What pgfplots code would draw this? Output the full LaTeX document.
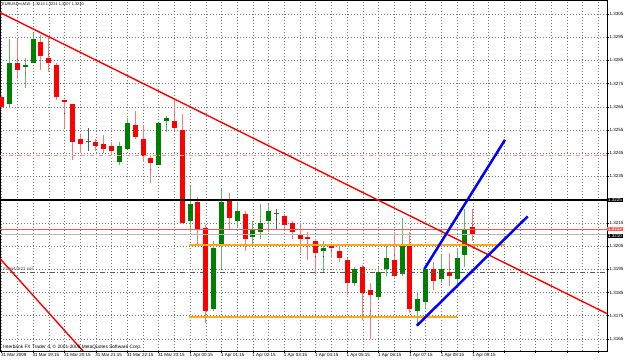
\documentclass[border=0pt]{standalone}
\usepackage{fontspec}
\setmainfont{Liberation Sans}
\usepackage{pgfplots}
\usepackage{pgfplotstable}
\pgfplotsset{compat=1.18}

\definecolor{mtred}{RGB}{255,0,0}
\definecolor{mtgreen}{RGB}{0,128,0}
\definecolor{wickred}{RGB}{255,120,120}
\definecolor{wickgreen}{RGB}{100,185,100}
\definecolor{gridc}{RGB}{120,120,120}
\definecolor{mtorange}{RGB}{255,170,30}
\definecolor{mtblue}{RGB}{0,0,255}
\definecolor{askc}{RGB}{255,90,90}
\definecolor{bidc}{RGB}{185,185,185}
\definecolor{slc}{RGB}{255,150,150}
\definecolor{ordc}{RGB}{90,90,90}

\newcommand\fa{\fontsize{4.5bp}{5bp}\selectfont}

\pgfplotstableread{
x o h l c
0 1.3269 1.3270 1.3264 1.3265
2 1.3284 1.3294 1.3277 1.3281
5 1.3293 1.3296 1.3281 1.3287
6 1.3286 1.3295 1.3280 1.3284
7 1.3283 1.3284 1.3268 1.3269
8 1.3268 1.3268 1.3256 1.3267
9 1.3266 1.3266 1.3242 1.3250
10 1.3251 1.3253 1.3245 1.3249
12 1.3250 1.3251 1.3246 1.3248
13 1.3249 1.3253 1.3245 1.3247
14 1.3248 1.3250 1.3244 1.3246
17 1.3257 1.3263 1.3251 1.3252
18 1.3251 1.3257 1.3241 1.3244
19 1.3243 1.3244 1.3232 1.3241
22 1.3259 1.3268 1.3255 1.3256
23 1.3255 1.3262 1.3215 1.3215
25 1.3224 1.3226 1.3206 1.3212
26 1.3213 1.3214 1.3172 1.3177
29 1.3225 1.3228 1.3212 1.3217
31 1.3219 1.3220 1.3203 1.3208
36 1.3218 1.3219 1.3212 1.3214
37 1.3215 1.3216 1.3208 1.3211
38 1.3210 1.3215 1.3202 1.3208
39 1.3209 1.3211 1.3199 1.3208
40 1.3207 1.3208 1.3193 1.3202
42 1.3205 1.3206 1.3200 1.3204
43 1.3203 1.3206 1.3198 1.3200
44 1.3199 1.3200 1.3184 1.3189
46 1.3196 1.3197 1.3173 1.3185
47 1.3186 1.3189 1.3165 1.3184
50 1.3199 1.3211 1.3191 1.3192
52 1.3205 1.3211 1.3176 1.3178
55 1.3195 1.3198 1.3186 1.3190
57 1.3194 1.3202 1.3188 1.3192
60 1.3213 1.3221 1.3207 1.3210
}\down

\pgfplotstableread{
x o h l c
1 1.3266 1.3294 1.3265 1.3284
3 1.3282 1.3286 1.3273 1.3283
4 1.3284 1.3297 1.3284 1.3294
15 1.3241 1.3250 1.3240 1.3248
16 1.3247 1.3260 1.3247 1.3258
20 1.3240 1.3258 1.3240 1.3258
21 1.3259 1.3261 1.3254 1.3260
24 1.3216 1.3231 1.3211 1.3223
27 1.3178 1.3207 1.3177 1.3204
28 1.3206 1.3230 1.3195 1.3224
30 1.3216 1.3224 1.3213 1.3220
32 1.3209 1.3216 1.3206 1.3212
33 1.3211 1.3223 1.3208 1.3215
34 1.3216 1.3223 1.3211 1.3220
41 1.3203 1.3207 1.3194 1.3204
45 1.3189 1.3196 1.3188 1.3195
48 1.3183 1.3196 1.3182 1.3194
49 1.3195 1.3205 1.3192 1.3200
51 1.3193 1.3217 1.3192 1.3206
53 1.3177 1.3185 1.3171 1.3182
54 1.3181 1.3196 1.3178 1.3195
56 1.3191 1.3201 1.3189 1.3195
58 1.3191 1.3204 1.3188 1.3200
59 1.3201 1.3221 1.3196 1.3212
}\up

\pgfplotstableread{
x o h l c
11 1.3250 1.3256 1.3246 1.3250
35 1.3219 1.3221 1.3212 1.3219
}\doji

\pgfplotsset{
  candle/.style n args={2}{only marks, mark=*, mark size=0.1bp, mark options={draw=none, fill=none},
    error bars/.cd, y dir=both, y explicit, error mark=none,
    error bar style={line width=#1, #2}},
}

\begin{document}
\begin{tikzpicture}
\begin{axis}[
  at={(0,0)}, anchor=south west,
  scale only axis, width=607bp, height=351bp,
  xmin=-0.217, xmax=77.1, ymin=1.31598, ymax=1.33110,
  clip mode=individual,
  axis line style={black, line width=0.8bp},
  xtick={0,4,...,76},
  xticklabels={31 Mar 2009,31 Mar 19:15,31 Mar 20:15,31 Mar 21:15,31 Mar 22:15,31 Mar 23:15,1 Apr 00:15,1 Apr 01:15,1 Apr 02:15,1 Apr 03:15,1 Apr 04:15,1 Apr 05:15,1 Apr 06:15,1 Apr 07:15,1 Apr 08:15,1 Apr 09:15,{},{},{},{}},
  minor xtick={2,6,...,74},
  ytick={1.3165,1.3175,1.3185,1.3195,1.3205,1.3215,1.3225,1.3235,1.3245,1.3255,1.3265,1.3275,1.3285,1.3295,1.3305},
  yticklabels={1.3165,1.3175,1.3185,1.3195,1.3205,1.3215,{},1.3235,1.3245,1.3255,1.3265,1.3275,1.3285,1.3295,1.3305},
  yticklabel pos=right, ytick pos=right, xtick pos=bottom,
  tick align=outside, major tick length=2bp, minor tick length=0pt,
  tick style={black, line width=0.5bp},
  scaled y ticks=false,
  yticklabel style={font=\fa, anchor=west, inner sep=0pt, xshift=0.5bp},
  xticklabel style={font=\fa, anchor=north west, inner sep=0pt, xshift=-0.7bp, yshift=-0.5bp},
  grid=both,
  major grid style={gridc, line width=0.5bp, dash pattern=on 1bp off 2bp},
  minor grid style={gridc, line width=0.5bp, dash pattern=on 1bp off 2bp},
]
% wicks
\addplot[candle={1bp}{wickred}]
  table[x=x, y expr={0.5*(\thisrow{h}+\thisrow{l})}, y error expr={0.5*(\thisrow{h}-\thisrow{l})}] {\down};
\addplot[candle={1bp}{wickgreen}]
  table[x=x, y expr={0.5*(\thisrow{h}+\thisrow{l})}, y error expr={0.5*(\thisrow{h}-\thisrow{l})}] {\up};
\addplot[candle={1bp}{ordc}]
  table[x=x, y expr={0.5*(\thisrow{h}+\thisrow{l})}, y error expr={0.5*(\thisrow{h}-\thisrow{l})}] {\doji};
% bodies
\addplot[candle={5bp}{mtred}]
  table[x=x, y expr={0.5*(\thisrow{o}+\thisrow{c})}, y error expr={max(0.5*abs(\thisrow{o}-\thisrow{c}),0.00003)}] {\down};
\addplot[candle={5bp}{mtgreen}]
  table[x=x, y expr={0.5*(\thisrow{o}+\thisrow{c})}, y error expr={max(0.5*abs(\thisrow{o}-\thisrow{c}),0.00003)}] {\up};
\addplot[only marks, mark=-, mark size=2.5bp, ordc, mark options={line width=0.8bp}]
  table[x=x, y=o] {\doji};
% horizontal lines
\addplot[slc, line width=0.8bp, dash pattern=on 4bp off 2bp on 1bp off 2bp] coordinates {(-0.217,1.32441) (77.1,1.32441)};
\addplot[ordc, line width=0.6bp, dash pattern=on 5bp off 2bp on 1bp off 2bp] coordinates {(-0.217,1.31939) (77.1,1.31939)};
\addplot[bidc, line width=1.4bp] coordinates {(-0.217,1.3210) (77.1,1.3210)};
\addplot[askc, line width=0.8bp] coordinates {(-0.217,1.32121) (77.1,1.32121)};
\addplot[black, line width=2bp] coordinates {(-0.217,1.3225) (77.1,1.3225)};
\addplot[mtorange, line width=2bp] coordinates {(23.86,1.32054) (64.1,1.32054)};
\addplot[mtorange, line width=2bp] coordinates {(23.86,1.31746) (57.96,1.31746)};
% trend lines
\addplot[mtred, line width=1.4bp] coordinates {(-0.217,1.33056) (77.1,1.31759)};
\addplot[mtred, line width=1.4bp] coordinates {(-0.217,1.31996) (12,1.31536)};
\addplot[mtblue, line width=2.5bp] coordinates {(53.83,1.31951) (64.11,1.32508)};
\addplot[mtblue, line width=2.5bp] coordinates {(52.87,1.31707) (67.0,1.32178)};
% texts
\node[anchor=north west, inner sep=0pt, font=\fontsize{3.9bp}{4.5bp}\selectfont] at (rel axis cs:0,1) [xshift=2bp, yshift=-2.5bp] {EURUSDm,M15\ \ 1.3213 1.3221 1.3207 1.3210};
\node[anchor=south west, inner sep=0pt, font=\fontsize{4.8bp}{5bp}\selectfont] at (rel axis cs:0,0) [xshift=3bp, yshift=1.5bp] {Interbank FX Trader 4, \textcopyright{} 2001-2008 MetaQuotes Software Corp.};
\node[anchor=south west, inner sep=0pt, font=\fa, text=ordc] at (axis cs:-0.217,1.31939) [xshift=3bp, yshift=0.8bp] {\#39647822 sell};
\node[anchor=west, fill=askc, text=white, inner xsep=0.8bp, inner ysep=0.4bp, font=\fa] at (axis cs:77.1,1.32125) {1.3212};
\node[anchor=west, fill=black, text=white, inner xsep=0.8bp, inner ysep=0.4bp, font=\fa] at (axis cs:77.1,1.32095) {1.3210};
\node[anchor=west, fill=black, text=white, inner xsep=0.8bp, inner ysep=0.4bp, font=\fa] at (axis cs:77.1,1.3225) {1.3225};
\end{axis}
\pgfresetboundingbox
\useasboundingbox (0,-9bp) rectangle (625bp,351bp);
\end{tikzpicture}
\end{document}
